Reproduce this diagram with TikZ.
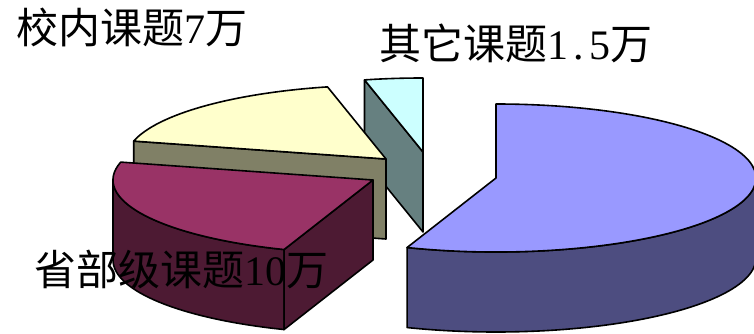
\documentclass[tikz,border=0pt]{standalone}
\usepackage{fontspec}
\setmainfont{Liberation Serif}
\newfontfamily\cjk{Noto Sans CJK SC}
\usetikzlibrary{calc}
\definecolor{blueTop}{HTML}{9999FF}
\definecolor{blueSide}{HTML}{4D4D80}
\definecolor{magTop}{HTML}{993366}
\definecolor{magSide}{HTML}{4D1A33}
\definecolor{yelTop}{HTML}{FFFFCC}
\definecolor{yelSide}{HTML}{808066}
\definecolor{tealTop}{HTML}{CCFFFF}
\definecolor{tealSide}{HTML}{668080}
\newcommand{\hw}[1]{\makebox[0.5em][c]{#1}}
\begin{document}
\begin{tikzpicture}[x=1pt,y=1pt,
  face/.style={draw=black, line width=1.6pt, line join=round},
  lbl/.style={anchor=base west, inner sep=0pt, text=black,
    font=\fontsize{42}{42}\selectfont}]
\useasboundingbox (0,0) rectangle (754,-334);
\def\RX{260}\def\RY{74}\def\H{80}
% slice centres
\coordinate (T) at (423,-152);
\coordinate (Y) at (386,-159);
\coordinate (M) at (373,-180);
\coordinate (B) at (496,-178);
% rim points
\coordinate (T103) at ($(T)+({\RX*cos(103)},{\RY*sin(103)})$);
\coordinate (Y103) at ($(Y)+({\RX*cos(103)},{\RY*sin(103)})$);
\coordinate (Y166) at ($(Y)+({\RX*cos(166)},{\RY*sin(166)})$);
\coordinate (M166) at ($(M)+({\RX*cos(166)},{\RY*sin(166)})$);
\coordinate (M180) at ($(M)+({\RX*cos(180)},{\RY*sin(180)})$);
\coordinate (M250) at ($(M)+({\RX*cos(250)},{\RY*sin(250)})$);
\coordinate (B250) at ($(B)+({\RX*cos(250)},{\RY*sin(250)})$);
% teal slice (其它课题)
\filldraw[face, fill=tealSide] (T103) -- (T) -- ($(T)+(0,-\H)$) -- ($(T103)+(0,-\H)$) -- cycle;
\filldraw[face, fill=tealTop] (T) -- (T103)
  arc[start angle=103, end angle=90, x radius=\RX, y radius=\RY] -- cycle;
% yellow slice (校内课题)
\filldraw[face, fill=yelSide] (Y166) -- (Y) -- ($(Y)+(0,-\H)$) -- ($(Y166)+(0,-\H)$) -- cycle;
\filldraw[face, fill=yelTop] (Y) -- (Y103)
  arc[start angle=103, end angle=166, x radius=\RX, y radius=\RY] -- cycle;
% magenta slice (省部级课题)
\filldraw[face, fill=magSide] (M180)
  arc[start angle=180, end angle=250, x radius=\RX, y radius=\RY]
  -- ++(0,-\H)
  arc[start angle=250, end angle=180, x radius=\RX, y radius=\RY] -- cycle;
\filldraw[face, fill=magSide] (M250) -- (M) -- ($(M)+(0,-\H)$) -- ($(M250)+(0,-\H)$) -- cycle;
\filldraw[face, fill=magTop] (M) -- (M166)
  arc[start angle=166, end angle=250, x radius=\RX, y radius=\RY] -- cycle;
% blue slice
\filldraw[face, fill=blueSide] (B250)
  arc[start angle=250, end angle=360, x radius=\RX, y radius=\RY]
  -- ++(0,-\H)
  arc[start angle=360, end angle=250, x radius=\RX, y radius=\RY] -- cycle;
\filldraw[face, fill=blueTop] (B) -- (B250)
  arc[start angle=250, end angle=450, x radius=\RX, y radius=\RY] -- cycle;
% labels
\node[lbl] (l1) at (16,-44) {{\cjk 校内课题}\hw{7}{\cjk 万}};
\node[lbl] (l2) at (379,-60) {{\cjk 其它课题}\hw{1}\hw{.}\hw{5}{\cjk 万}};
\node[lbl] (l3) at (34,-285) {{\cjk 省部级课题}\hw{1}\hw{0}{\cjk 万}};
\end{tikzpicture}
\end{document}
